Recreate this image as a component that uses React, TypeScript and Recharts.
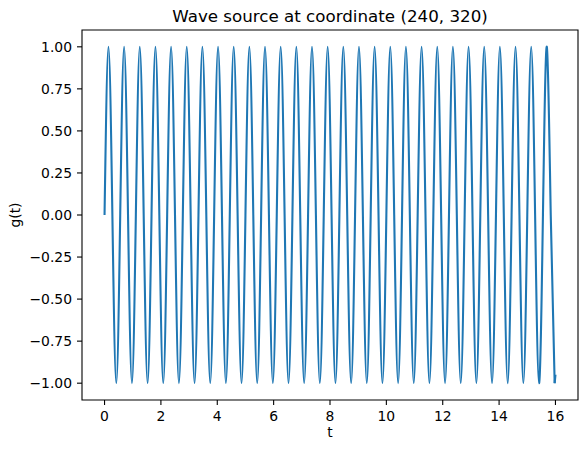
import { LineChart, Line, XAxis, YAxis, ReferenceArea, Label } from "recharts";

// sample times (s): zero crossings, peaks and troughs
const T = [
  0, 0.139, 0.278, 0.417, 0.556, 0.694, 0.833, 0.972,
  1.111, 1.25, 1.389, 1.528, 1.667, 1.806, 1.944, 2.083,
  2.222, 2.361, 2.5, 2.639, 2.778, 2.917, 3.056, 3.194,
  3.333, 3.472, 3.611, 3.75, 3.889, 4.028, 4.167, 4.306,
  4.444, 4.583, 4.722, 4.861, 5, 5.139, 5.278, 5.417,
  5.556, 5.694, 5.833, 5.972, 6.111, 6.25, 6.389, 6.528,
  6.667, 6.806, 6.944, 7.083, 7.222, 7.361, 7.5, 7.639,
  7.778, 7.917, 8.056, 8.194, 8.333, 8.472, 8.611, 8.75,
  8.889, 9.028, 9.167, 9.306, 9.444, 9.583, 9.722, 9.861,
  10, 10.139, 10.278, 10.417, 10.556, 10.694, 10.833, 10.972,
  11.111, 11.25, 11.389, 11.528, 11.667, 11.806, 11.944, 12.083,
  12.222, 12.361, 12.5, 12.639, 12.778, 12.917, 13.056, 13.194,
  13.333, 13.472, 13.611, 13.75, 13.889, 14.028, 14.167, 14.306,
  14.444, 14.583, 14.722, 14.861, 15, 15.139, 15.278, 15.417,
  15.556, 15.694, 15.833, 15.972, 16,
];

// g(t) at those times
const G = [
  0, 1, 0, -1, 0, 1, 0, -1,
  0, 1, 0, -1, 0, 1, 0, -1,
  0, 1, 0, -1, 0, 1, 0, -1,
  0, 1, 0, -1, 0, 1, 0, -1,
  0, 1, 0, -1, 0, 1, 0, -1,
  0, 1, 0, -1, 0, 1, 0, -1,
  0, 1, 0, -1, 0, 1, 0, -1,
  0, 1, 0, -1, 0, 1, 0, -1,
  0, 1, 0, -1, 0, 1, 0, -1,
  0, 1, 0, -1, 0, 1, 0, -1,
  0, 1, 0, -1, 0, 1, 0, -1,
  0, 1, 0, -1, 0, 1, 0, -1,
  0, 1, 0, -1, 0, 1, 0, -1,
  0, 1, 0, -1, 0, 1, 0, -1,
  0, 1, 0, -1, -0.95,
];

const X_TICKS = [0, 2, 4, 6, 8, 10, 12, 14, 16];
const Y_TICKS = [-1, -0.75, -0.5, -0.25, 0, 0.25, 0.5, 0.75, 1];
const TITLE = "Wave source at coordinate (240, 320)";
const X_LABEL = "t";
const Y_LABEL = "g(t)";

// smooth part up to the last trough, short straight tail to the final sample
const last = T.length - 1;
const data = T.map((t, i) => ({
  t,
  g: i < last ? G[i] : undefined,
  tail: i >= last - 1 ? G[i] : undefined,
}));

const FONT = "'DejaVu Sans', sans-serif";
const tickStyle = { fill: "#000", fontSize: 13.9, fontFamily: FONT };
const BLUE = "#1f77b4";

const fmtY = (v: number) => {
  const s = Math.abs(v).toFixed(2);
  return v < 0 ? "\u2212" + s : s;
};

export default function App() {
  return (
    <div
      style={{
        position: "absolute",
        left: 0,
        top: 0,
        width: 587,
        height: 453,
        background: "#fff",
      }}
    >
      <LineChart
        width={587}
        height={453}
        data={data}
        margin={{ top: 30, right: 9, bottom: 0, left: 0 }}
      >
        <XAxis
          dataKey="t"
          type="number"
          domain={[-0.8, 16.8]}
          ticks={X_TICKS}
          height={53}
          axisLine={false}
          tickLine={{ stroke: "#000", strokeWidth: 1.1 }}
          tickSize={5}
          tickMargin={6}
          tick={tickStyle}
        >
          <Label
            content={() => (
              <g>
                <text
                  x={330}
                  y={437}
                  textAnchor="middle"
                  fontSize={13.9}
                  fontFamily={FONT}
                  fill="#000"
                >
                  {X_LABEL}
                </text>
                <text
                  x={330}
                  y={22}
                  textAnchor="middle"
                  fontSize={16.7}
                  fontFamily={FONT}
                  fill="#000"
                >
                  {TITLE}
                </text>
              </g>
            )}
          />
        </XAxis>
        <YAxis
          type="number"
          domain={[-1.1, 1.1]}
          ticks={Y_TICKS}
          width={82}
          axisLine={false}
          tickLine={{ stroke: "#000", strokeWidth: 1.1 }}
          tickSize={5}
          tickMargin={5}
          tick={tickStyle}
          tickFormatter={fmtY}
        >
          <Label
            content={() => (
              <text
                x={20}
                y={215}
                transform="rotate(-90 20 215)"
                textAnchor="middle"
                fontSize={13.9}
                fontFamily={FONT}
                fill="#000"
              >
                {Y_LABEL}
              </text>
            )}
          />
        </YAxis>
        <ReferenceArea
          x1={-0.8}
          x2={16.8}
          y1={-1.1}
          y2={1.1}
          fill="none"
          stroke="#000"
          strokeWidth={1.1}
          ifOverflow="visible"
        />
        <Line
          type="natural"
          dataKey="g"
          stroke={BLUE}
          strokeWidth={2.1}
          dot={false}
          isAnimationActive={false}
        />
        <Line
          type="linear"
          dataKey="tail"
          stroke={BLUE}
          strokeWidth={2.1}
          dot={false}
          isAnimationActive={false}
        />
      </LineChart>
    </div>
  );
}
